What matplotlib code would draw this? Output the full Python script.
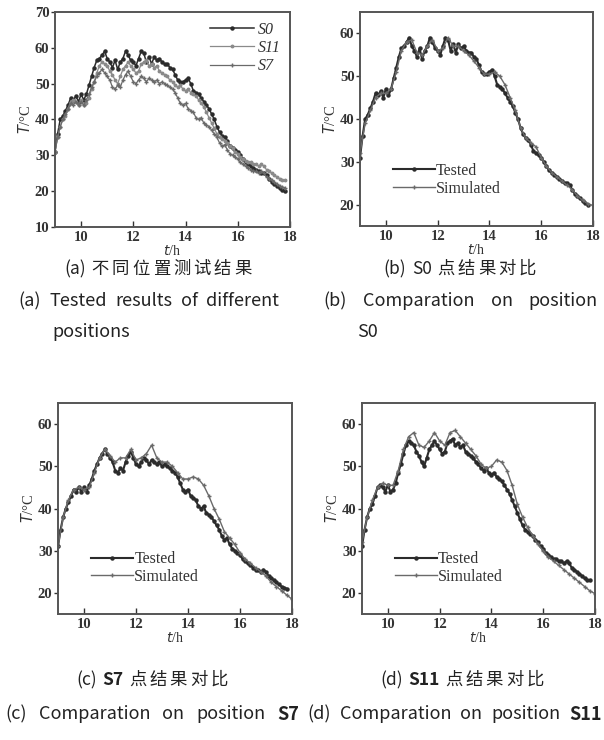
import numpy as np
import matplotlib
matplotlib.use("Agg")
import matplotlib.pyplot as plt

# ---------------- data ----------------
t_test = np.round(np.arange(9.0, 17.81, 0.1), 1)   # hours, tested sampling
t_sim = np.round(np.arange(9.0, 18.01, 0.2), 1)    # hours, simulated output

s0_tested = [31, 36, 40, 41, 42.5, 44, 46, 45.5, 46.5, 45,
             47, 45.5, 47, 49.5, 52, 54.5, 56.5, 57, 58, 59,
             57, 56, 54.5, 56.5, 54, 56, 57, 59, 58, 56.5,
             56, 55, 57, 59, 58.5, 56, 57.5, 55.5, 57.5, 56.5,
             57, 56, 55.5, 55.5, 54.5, 54, 52.5, 51, 50.5, 50.5,
             51, 51.5, 50, 48, 47.5, 47, 46, 45, 44, 43,
             41.5, 40, 38, 36.5, 35.5, 35, 34, 32.5, 32, 31.5,
             31, 30, 29, 28, 27.5, 27, 26.5, 26, 25.5, 25,
             25, 24.5, 23.5, 22.5, 22, 21.5, 20.8, 20.3, 20]
s0_sim = [32, 39, 42, 45, 46, 46, 47, 51, 56, 58,
          58.5, 55.5, 55, 57, 58.5, 56, 56.5, 59, 57, 57,
          56, 55, 53.5, 52, 50.5, 50.5, 51, 50, 48, 45,
          42, 38, 35.5, 34.5, 33.5, 31, 29, 27.5, 26.5, 25.5,
          24.5, 23.5, 22, 21, 20.2, 19.8]

s7_tested = [31, 35, 38, 40, 41.5, 43, 44.5, 44, 45, 44,
             45, 44, 45.5, 47, 49, 50.5, 52, 53, 54, 53,
             52, 51, 49, 48.5, 49.5, 49, 51, 52.5, 53.5, 52,
             50.5, 50, 51, 52, 51.5, 50.5, 51.5, 51, 50.5, 51,
             50, 50.5, 50, 49.5, 49, 48.5, 47.5, 46, 44.5, 44,
             44.5, 43, 42.5, 42, 40.5, 40, 40.5, 39, 38.5, 38,
             37, 36, 35, 33.5, 32.5, 33, 31.5, 30.5, 30, 29.5,
             29, 28, 27.5, 27, 26.5, 26, 25.5, 25.5, 25, 25.5,
             25, 24, 23.5, 23, 22.5, 22, 21.5, 21.2, 21]
s7_sim = [31, 38, 42, 44.5, 45, 44.5, 45, 48.5, 52, 54,
          52.5, 51, 52, 52, 54, 51.5, 52, 53, 55, 52,
          51, 51, 50, 48.5, 47, 47, 47.5, 47, 45.5, 43,
          40, 37.5, 34.5, 33, 31.5, 29.5, 28, 27, 26, 25,
          24, 22.5, 21.5, 20.5, 19.5, 18.5]

s11_tested = [31, 35, 38, 40, 41, 43, 45, 45.5, 45, 44,
              45.5, 44, 44.5, 46, 48.5, 50.5, 53, 55, 56, 55.5,
              55, 53.5, 52.5, 51, 50, 52, 54, 55, 56, 55,
              54, 53, 53.5, 55.5, 56, 56.5, 55, 55.5, 54.5, 55,
              53.5, 53, 52.5, 52, 51, 50.5, 49.5, 49, 49.5, 48.5,
              48, 48.5, 47.5, 47, 46.5, 45.5, 44.5, 43.5, 42, 40.5,
              39, 37.5, 36, 35, 34.5, 34, 33.5, 32.5, 32, 31,
              30.5, 29.5, 29, 28.5, 28, 28, 27.5, 27.5, 27, 27.5,
              27, 26, 25.5, 25, 24.5, 24, 23.5, 23, 23]
s11_sim = [32, 38, 42, 45, 46, 45.5, 45.5, 49, 54, 57,
           58, 55, 54.5, 56, 58, 56, 55, 58, 58.5, 57,
           55.5, 54, 52.5, 50.5, 49.5, 50, 51.5, 51, 49, 45.5,
           41, 38, 35.5, 33.5, 31.5, 30, 28.5, 27.5, 26.5, 25.5,
           24.5, 23.5, 22.5, 21.5, 20.5, 19.8]

x_ticks = [10, 12, 14, 16, 18]
legend_a = ["S0", "S11", "S7"]
legend_cmp = ["Tested", "Simulated"]

# caption tokens: (text, bold)
cap_cn_a = [("(a)", False), ("不", False), ("同", False), ("位", False), ("置", False),
            ("测", False), ("试", False), ("结", False), ("果", False)]
cap_cn_b = [("(b)", False), ("S0", False), ("点", False), ("结", False), ("果", False), ("对", False), ("比", False)]
cap_cn_c = [("(c)", False), ("S7", True), ("点", False), ("结", False), ("果", False), ("对", False), ("比", False)]
cap_cn_d = [("(d)", False), ("S11", True), ("点", False), ("结", False), ("果", False), ("对", False), ("比", False)]
cap_en_a1 = [("(a)", False), ("Tested", False), ("results", False), ("of", False), ("different", False)]
cap_en_a2 = [("positions", False)]
cap_en_b1 = [("(b)", False), ("Comparation", False), ("on", False), ("position", False)]
cap_en_b2 = [("S0", False)]
cap_en_c = [("(c)", False), ("Comparation", False), ("on", False), ("position", False), ("S7", True)]
cap_en_d = [("(d)", False), ("Comparation", False), ("on", False), ("position", False), ("S11", True)]

# ---------------- style ----------------
SERIF = ["Liberation Serif", "DejaVu Serif"]
CJK = ["Noto Sans CJK SC", "DejaVu Sans"]
W, H = 604, 740
fig = plt.figure(figsize=(W / 100, H / 100), dpi=100)
renderer = fig.canvas.get_renderer()

def ax_at(l, r, top, bot):
    return fig.add_axes([l / W, 1 - bot / H, (r - l) / W, (bot - top) / H])

def style_axes(ax, ylim, yticks):
    ax.set_xlim(9, 18)
    ax.set_ylim(*ylim)
    ax.set_xticks(x_ticks)
    ax.set_yticks(yticks)
    ax.tick_params(axis="x", direction="in", length=4, width=1, labelsize=10.5, pad=3, colors="#333333")
    ax.tick_params(axis="y", direction="out", length=3, width=1, labelsize=10.5, pad=1, colors="#333333")
    for lab in ax.get_xticklabels() + ax.get_yticklabels():
        lab.set_fontfamily(SERIF)
        lab.set_fontweight("bold")
        lab.set_color("#333333")
    for sp in ax.spines.values():
        sp.set_linewidth(1.4)
        sp.set_color("#555555")
    ax.set_xlabel(r"$t$/h", fontfamily=SERIF, fontsize=10, labelpad=0, color="#333333")
    ax.set_ylabel(r"$T$/°C", fontfamily=SERIF, fontsize=10.5, labelpad=1, color="#333333")

DARK = "#2b2b2b"
MID = "#6a6a6a"
LIGHT = "#8a8a8a"

# panel (a)
axa = ax_at(55, 290, 12, 227)
axa.plot(t_test, s0_tested, color=DARK, lw=1.1, marker="o", ms=2.2, label=legend_a[0])
axa.plot(t_test, s11_tested, color=LIGHT, lw=0.9, marker="o", ms=1.8, label=legend_a[1])
axa.plot(t_test, s7_tested, color=MID, lw=0.9, marker="+", ms=3, label=legend_a[2])
style_axes(axa, (10, 70), [10, 20, 30, 40, 50, 60, 70])
leg = axa.legend(loc="upper right", frameon=False, prop={"family": SERIF, "style": "italic", "size": 11.5},
                 handlelength=2.8, handletextpad=0.2, labelspacing=0.15, borderaxespad=0.2)
for txt in leg.get_texts():
    txt.set_color("#333333")

def cmp_panel(l, r, top, bot, tested, sim):
    ax = ax_at(l, r, top, bot)
    ax.plot(t_test, tested, color=DARK, lw=1.5, marker="o", ms=2.2, label=legend_cmp[0])
    ax.plot(t_sim, sim, color=MID, lw=1.0, marker="+", ms=3, label=legend_cmp[1])
    style_axes(ax, (15, 65), [20, 30, 40, 50, 60])
    lg = ax.legend(loc="lower left", frameon=False, prop={"family": SERIF, "size": 11.5},
                   handlelength=2.6, handletextpad=0.1, labelspacing=0.1,
                   bbox_to_anchor=(0.08, 0.07))
    for txt in lg.get_texts():
        txt.set_color("#333333")
    return ax

cmp_panel(360, 593, 12, 226, s0_tested, s0_sim)
cmp_panel(58, 292, 403, 614, s7_tested, s7_sim)
cmp_panel(362, 595, 403, 614, s11_tested, s11_sim)

# ---------------- captions ----------------
def make_tokens(tokens, size):
    arts = []
    for s, bold in tokens:
        t = fig.text(0, 0, s, ha="left", va="center", fontsize=size, fontfamily=CJK,
                     fontweight="bold" if bold else "normal", color="#222222")
        w = t.get_window_extent(renderer).width
        arts.append((t, w, s))
    return arts

def is_ascii(s):
    return all(ord(c) < 128 for c in s)

def place(arts, x0, y, gaps):
    x = x0
    for i, (t, w, s) in enumerate(arts):
        t.set_position((x / W, 1 - y / H))
        x += w
        if i < len(gaps):
            x += gaps[i]

def caption_cn(tokens, xc, y, size=12.5, cjk_gap=3.0, word_gap=5.5):
    arts = make_tokens(tokens, size)
    gaps = []
    for i in range(len(arts) - 1):
        a, b = arts[i][2], arts[i + 1][2]
        gaps.append(word_gap if (is_ascii(a) or is_ascii(b)) else cjk_gap)
    total = sum(w for _, w, _ in arts) + sum(gaps)
    place(arts, xc - total / 2, y, gaps)

def caption_en(tokens, x0, y, x1=None, size=13, gap=6.0):
    arts = make_tokens(tokens, size)
    n = len(arts)
    if x1 is not None and n > 1:
        g = (x1 - x0 - sum(w for _, w, _ in arts)) / (n - 1)
    else:
        g = gap
    place(arts, x0, y, [g] * (n - 1))

caption_cn(cap_cn_a, 158, 269)
caption_cn(cap_cn_b, 460, 269)
caption_cn(cap_cn_c, 152, 680)
caption_cn(cap_cn_d, 462, 680)
caption_en(cap_en_a1, 18, 301, 279)
caption_en(cap_en_a2, 52, 332)
caption_en(cap_en_b1, 323, 301, 598)
caption_en(cap_en_b2, 357, 332)
caption_en(cap_en_c, 5, 714, 299)
caption_en(cap_en_d, 307, 714, 602)

fig.savefig("out.png", dpi=100, facecolor="white")
